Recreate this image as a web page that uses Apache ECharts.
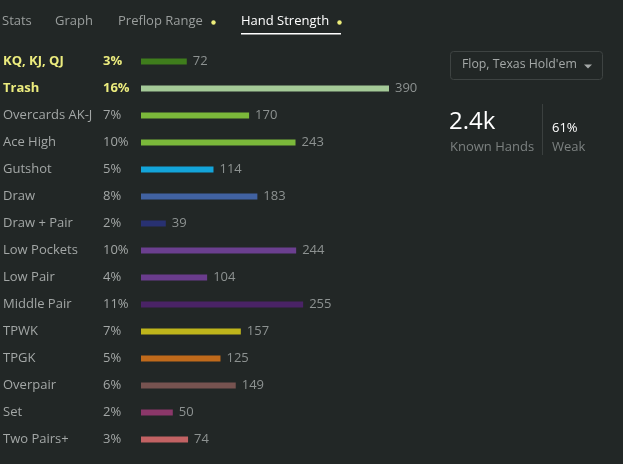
<!DOCTYPE html>
<html><head><meta charset="utf-8">
<script src="https://cdn.jsdelivr.net/npm/echarts@6/dist/echarts.min.js"></script>
<style>html,body{margin:0;padding:0;background:#222726;}#c{width:623px;height:464px;}</style>
</head><body><div id="c"></div>
<script>
const categories = ["KQ, KJ, QJ","Trash","Overcards AK-J","Ace High","Gutshot","Draw","Draw + Pair","Low Pockets","Low Pair","Middle Pair","TPWK","TPGK","Overpair","Set","Two Pairs+"];
const counts = [72,390,170,243,114,183,39,244,104,255,157,125,149,50,74];
const percents = ["3%","16%","7%","10%","5%","8%","2%","10%","4%","11%","7%","5%","6%","2%","3%"];
const highlighted = [true,true,false,false,false,false,false,false,false,false,false,false,false,false,false];
const tabs = ["Stats","Graph","Preflop Range","Hand Strength"];
const knownHands = "2.4k", weakPct = "61%";
const barColors = ["#3f7d1c","#a4c997","#7bb83a","#7bb83a","#13a4d9","#4162a1","#283171","#6b3f8f","#6a3c8c","#4a2366","#bfb51b","#c06a1b","#775350","#8b3769","#c26263"];

const FONT = "'Open Sans', 'Noto Sans', sans-serif";
const chart = echarts.init(document.getElementById('c'));
const gray = '#a3a7a6';
chart.setOption({
  backgroundColor: '#222726',
  animation: false,
  grid: { left: 140, top: 48, height: 405, width: 249 },
  xAxis: { type: 'value', min: 0, max: 390, show: false },
  yAxis: {
    type: 'category', data: categories, inverse: true,
    axisLine: { show: false }, axisTick: { show: false },
    axisLabel: {
      align: 'left', margin: 138,
      formatter: (v, i) => highlighted[i] ? `{hn|${v}}{hp|${percents[i]}}` : `{n|${v}}{p|${percents[i]}}`,
      rich: {
        n: { width: 100, color: gray, fontSize: 13, fontFamily: FONT },
        p: { color: gray, fontSize: 13, fontFamily: FONT },
        hn: { width: 100, color: '#ecec7e', fontSize: 13, fontWeight: 'bold', fontFamily: FONT },
        hp: { color: '#ecec7e', fontSize: 13, fontWeight: 'bold', fontFamily: FONT }
      }
    }
  },
  series: [{
    type: 'bar', barWidth: 6,
    data: counts.map((v, i) => ({ value: v, itemStyle: { color: barColors[i] } })),
    label: { show: true, position: 'right', distance: 6, color: '#8d9291', fontSize: 13, fontFamily: FONT }
  }],
  graphic: [
    { type: 'text', left: 2, top: 15, style: { text: tabs[0], fill: '#9a9e9d', font: `13px ${FONT}` } },
    { type: 'text', left: 55, top: 15, style: { text: tabs[1], fill: '#9a9e9d', font: `13px ${FONT}` } },
    { type: 'text', left: 118, top: 15, style: { text: tabs[2], fill: '#9a9e9d', font: `13px ${FONT}` } },
    { type: 'circle', shape: { cx: 213.5, cy: 22.5, r: 2.2 }, style: { fill: '#eded7a' } },
    { type: 'text', left: 241, top: 15, style: { text: tabs[3], fill: '#ffffff', font: `13px ${FONT}` } },
    { type: 'circle', shape: { cx: 339.5, cy: 22.5, r: 2.2 }, style: { fill: '#eded7a' } },
    { type: 'rect', shape: { x: 241, y: 33, width: 100, height: 1.5 }, style: { fill: '#ffffff' } },
    { type: 'rect', shape: { x: 450.5, y: 51.5, width: 152, height: 28, r: 3 }, style: { fill: 'transparent', stroke: '#3e4342', lineWidth: 1 } },
    { type: 'text', left: 462, top: 58, style: { text: "Flop, Texas Hold'em", fill: '#a5a9a8', font: `12.3px ${FONT}` } },
    { type: 'polygon', shape: { points: [[584, 64.5], [592, 64.5], [588, 68.5]] }, style: { fill: '#a5a9a8' } },
    { type: 'text', left: 449, top: 110, style: { text: knownHands, fill: '#ffffff', font: `24px ${FONT}` } },
    { type: 'text', left: 450, top: 141, style: { text: 'Known Hands', fill: '#7c8180', font: `13px ${FONT}` } },
    { type: 'rect', shape: { x: 542, y: 104, width: 1, height: 51 }, style: { fill: '#3b403f' } },
    { type: 'text', left: 552, top: 122, style: { text: weakPct, fill: '#ffffff', font: `13px ${FONT}` } },
    { type: 'text', left: 552, top: 141, style: { text: 'Weak', fill: '#7c8180', font: `13px ${FONT}` } }
  ]
});
</script></body></html>
